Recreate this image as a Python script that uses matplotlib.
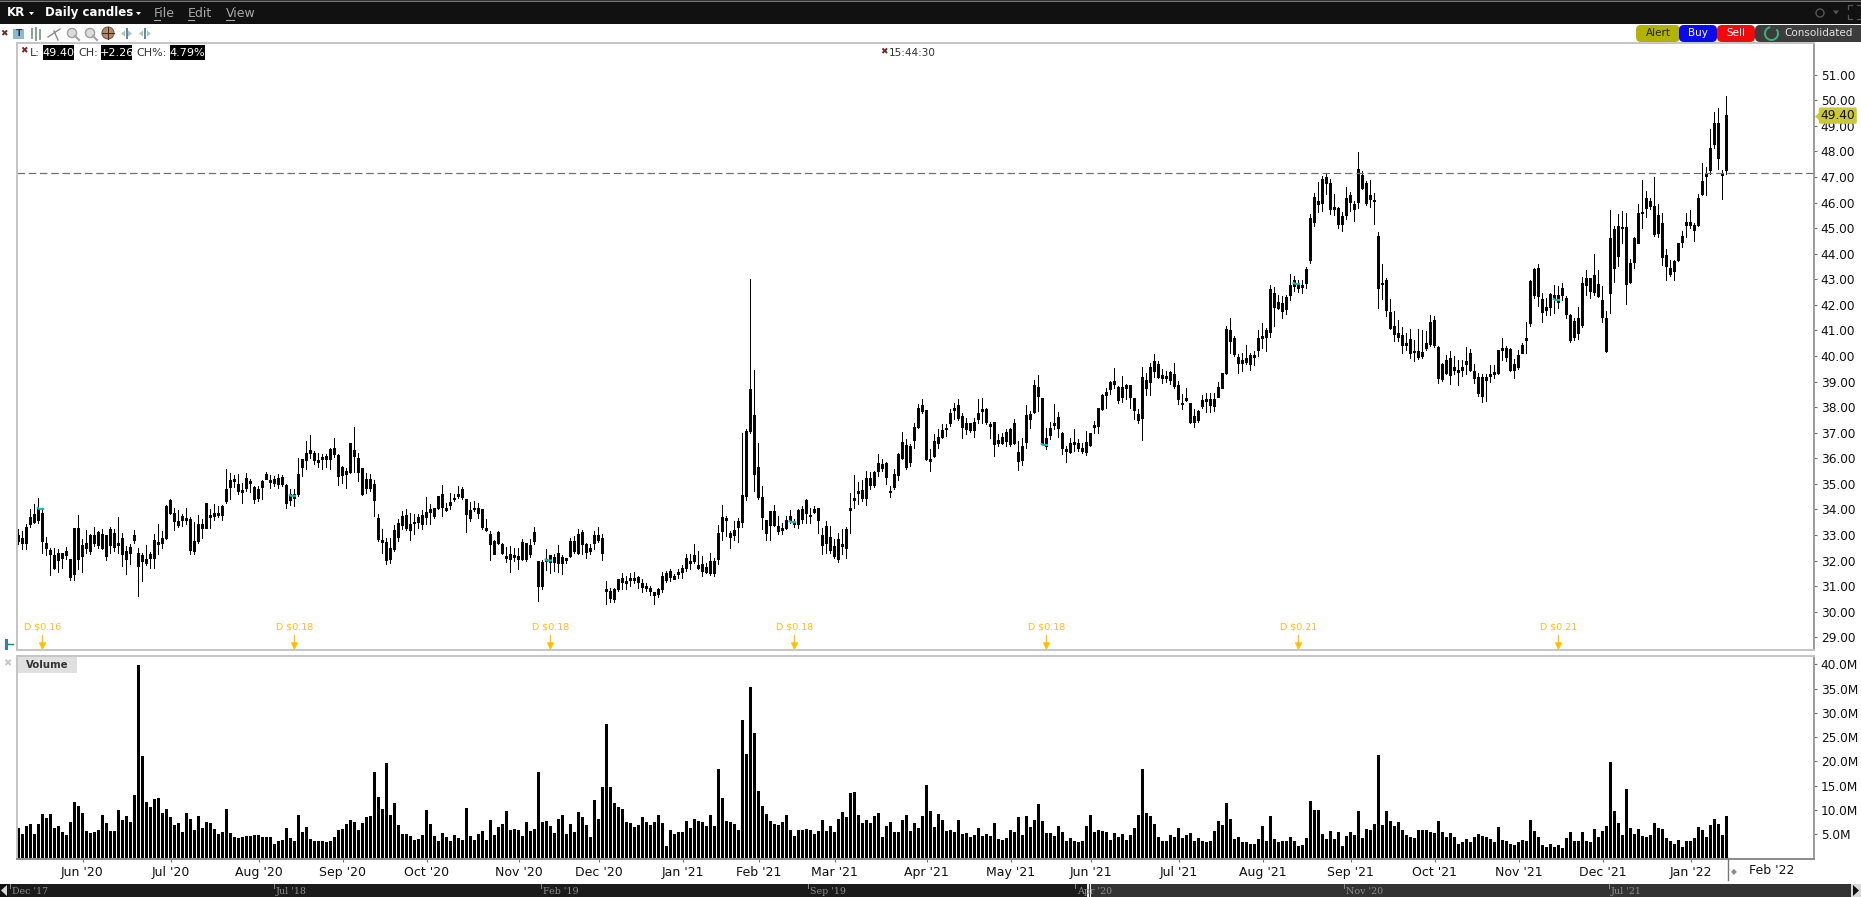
#!/bin/env python
import numpy as np
import matplotlib
matplotlib.use("Agg")
import matplotlib.pyplot as plt
from matplotlib.patches import Rectangle, FancyBboxPatch, Polygon, Circle, Arc

W, H = 1861, 897

# daily candles, Jun '20 to Jan '22 (all drawn black in the reference)
high = [33.23,33.13,33.39,33.98,34.18,34.44,34.05,32.91,32.48,32.48,32.42,32.29,32.52,32.03,33.26,33.75,32.81,33.16,33.00,33.30,33.13,33.20,32.96,33.30,33.20,33.69,33.07,32.55,32.64,33.17,
        32.48,32.29,32.57,32.31,33.00,33.39,33.13,34.14,34.37,34.05,33.96,33.79,34.05,33.69,33.50,33.75,33.59,34.22,33.98,34.18,34.11,34.15,35.55,35.42,35.31,35.35,35.02,35.39,35.16,34.89,
        34.89,35.12,35.44,35.31,35.29,35.35,35.31,34.96,34.76,34.76,35.98,35.96,36.65,36.90,36.26,36.20,36.13,36.13,36.39,36.79,36.13,35.68,35.61,36.59,37.20,36.20,35.61,35.42,35.35,35.13,
        33.79,33.20,32.87,32.87,33.36,33.59,33.92,34.01,33.85,33.79,33.79,33.94,34.48,34.18,34.05,34.50,34.92,34.24,34.63,34.57,34.89,34.87,34.37,34.28,34.31,34.24,34.01,33.59,33.13,32.78,
        33.13,32.68,32.52,32.55,32.48,32.48,32.81,32.65,32.83,33.30,31.96,32.00,32.42,32.18,32.25,32.60,32.18,32.09,32.87,32.94,33.20,33.17,32.68,32.61,33.13,33.30,33.00,31.18,30.92,30.92,
        31.27,31.50,31.37,31.50,31.54,31.37,31.24,31.11,30.98,30.75,30.92,31.54,31.57,31.63,31.44,31.63,31.79,32.22,32.22,32.64,32.35,32.15,31.89,32.28,32.09,33.38,34.16,33.72,33.13,33.52,
        33.65,36.98,37.11,42.98,39.42,36.56,34.89,33.55,33.91,34.14,33.72,33.46,33.72,33.94,33.59,33.98,34.11,34.37,34.05,34.11,34.05,33.26,33.52,33.33,32.81,33.07,33.20,33.30,34.61,35.31,
        35.05,35.13,35.47,35.44,35.48,36.16,35.94,35.83,34.89,35.54,36.20,37.02,36.72,36.52,37.37,38.09,38.28,37.87,36.33,36.91,37.11,37.31,37.31,37.89,38.13,38.31,37.76,37.57,37.37,37.57,
        38.28,38.35,37.96,37.40,37.40,36.91,36.98,37.14,37.17,37.53,36.65,36.78,38.05,37.83,39.03,39.22,38.35,37.17,37.41,38.09,37.79,37.01,36.46,36.78,37.14,36.72,36.59,37.04,36.98,37.44,
        37.93,38.48,38.74,39.00,39.52,38.80,39.20,38.87,38.83,38.35,37.89,39.56,39.33,39.72,40.04,39.78,39.46,39.39,39.39,39.69,39.00,38.48,38.74,38.13,37.89,37.87,38.44,38.54,38.54,38.54,
        38.97,39.33,41.15,41.48,40.76,40.04,40.10,40.39,40.08,40.17,40.98,41.28,41.08,42.74,42.69,42.38,42.32,42.38,43.17,43.10,42.95,42.97,43.47,45.55,46.36,46.79,47.01,47.14,46.91,46.30,
        45.80,45.61,46.60,46.40,46.04,47.97,47.21,46.82,46.88,46.34,44.84,43.56,43.04,42.19,41.73,41.37,41.12,40.89,41.02,40.62,41.02,40.99,40.95,41.60,41.54,40.36,39.71,40.00,40.17,39.97,
        39.84,39.84,40.34,40.26,39.65,39.32,39.28,39.29,39.61,39.61,40.23,40.69,40.36,40.30,39.87,40.23,40.47,41.30,42.95,43.43,43.56,42.45,42.25,42.45,42.74,42.71,42.84,42.32,41.64,41.47,
        41.89,43.08,43.36,43.04,43.95,43.36,42.71,41.73,45.67,45.06,45.55,45.65,45.58,43.78,44.63,45.93,46.88,46.45,46.17,46.99,45.91,45.58,44.17,43.75,43.75,44.41,44.86,45.58,45.67,45.19,
        46.30,47.51,47.39,48.87,49.53,49.66,47.24,50.13]
body_top = [32.96,32.85,33.30,33.69,33.79,34.05,33.84,32.65,32.38,32.20,32.26,32.26,32.34,32.03,33.24,33.26,32.60,32.65,32.96,32.96,33.09,33.00,32.96,33.20,33.04,32.65,32.85,32.34,32.49,32.96,
            32.29,32.18,32.03,32.22,32.77,32.72,32.87,34.11,34.33,33.83,33.53,33.71,33.63,33.59,32.73,33.39,33.39,34.22,33.75,33.85,33.83,34.11,34.76,35.12,35.18,34.96,34.74,35.19,35.09,34.85,
            34.76,35.09,35.36,35.13,35.16,35.19,35.23,34.92,34.59,34.57,35.35,35.96,36.20,36.29,36.17,35.90,36.03,36.07,36.33,36.37,36.11,35.64,35.48,36.56,36.29,35.98,35.59,35.16,35.16,34.96,
            33.66,32.77,32.70,32.47,33.17,33.43,33.71,33.77,33.39,33.49,33.68,33.75,33.88,34.01,34.02,34.50,34.57,34.02,34.27,34.44,34.59,34.79,34.37,33.94,34.05,34.02,33.98,33.26,33.00,32.74,
            33.11,32.61,32.16,32.22,32.18,32.16,32.69,32.65,32.60,33.11,31.95,31.92,32.05,32.18,32.13,32.26,32.12,32.06,32.73,32.73,33.00,33.11,32.64,32.47,32.96,32.96,32.85,30.85,30.77,30.88,
            31.24,31.28,31.18,31.28,31.28,31.33,31.11,30.97,30.92,30.73,30.85,31.36,31.49,31.57,31.39,31.52,31.70,32.09,31.96,32.18,31.80,31.84,31.71,31.98,31.95,33.07,33.67,33.64,33.07,33.16,
            33.51,34.53,37.03,38.70,37.66,35.62,34.48,33.55,33.91,33.90,33.33,33.25,33.55,33.73,33.46,33.94,33.98,34.35,33.77,33.98,34.02,32.99,33.33,32.91,32.55,32.83,32.64,33.20,34.05,34.41,
            34.68,34.74,35.19,35.22,35.44,35.81,35.77,35.78,34.71,35.35,36.16,36.60,36.50,36.44,37.20,37.93,38.05,37.85,35.94,36.67,36.82,37.10,37.17,37.74,37.93,38.05,37.62,37.36,37.34,37.38,
            37.74,37.89,37.89,37.32,37.38,36.71,36.82,37.01,37.11,37.34,36.24,36.44,37.66,37.70,38.83,38.75,38.32,36.76,37.15,37.34,37.61,36.95,36.33,36.56,36.61,36.56,36.37,36.60,36.95,37.27,
            37.93,38.44,38.58,38.95,38.99,38.75,38.75,38.83,38.83,38.35,37.70,39.14,39.03,39.55,39.80,39.68,39.22,39.18,39.34,39.29,38.86,38.15,38.32,38.13,37.62,37.84,38.24,38.28,38.28,38.28,
            38.78,39.33,41.05,40.98,40.67,39.95,39.84,39.92,40.00,40.00,40.69,40.77,40.98,42.58,42.45,42.10,42.06,42.28,42.74,42.95,42.82,42.76,43.40,45.38,46.21,46.06,46.91,46.98,46.73,45.79,
            45.75,45.45,46.17,46.26,45.91,47.28,47.04,46.73,46.26,46.09,44.69,42.84,42.96,41.71,41.15,40.89,40.79,40.47,40.65,40.19,40.18,40.14,40.47,41.30,41.37,40.34,39.65,39.84,39.92,39.56,
            39.45,39.53,39.79,40.10,39.40,39.14,39.14,39.16,39.28,39.35,40.21,40.30,40.31,40.26,39.65,40.00,40.42,40.70,42.93,43.40,43.44,42.19,41.90,42.42,42.38,42.38,42.62,42.23,41.60,41.36,
            41.47,42.82,43.01,43.01,43.13,42.78,42.15,41.47,44.60,44.95,45.07,45.03,45.03,43.62,44.58,45.58,45.63,46.17,46.06,45.84,45.48,45.19,43.91,43.44,43.71,44.38,44.68,45.21,45.21,45.12,
            46.14,46.81,47.08,48.10,49.08,49.08,47.12,49.39]
body_bot = [32.74,32.65,32.65,33.39,33.50,33.55,32.74,32.47,32.22,31.70,32.00,32.06,32.18,31.33,31.44,32.03,32.16,32.46,32.34,32.65,32.57,32.47,32.16,32.57,32.52,32.57,32.22,32.03,32.26,32.78,
            31.76,31.96,31.87,32.08,32.06,32.64,32.66,32.85,33.83,33.53,33.36,33.56,33.58,32.38,32.36,32.74,33.26,33.26,33.67,33.72,33.75,33.75,34.31,34.85,35.08,34.70,34.66,34.83,35.02,34.37,
            34.44,34.85,35.18,35.05,35.01,34.96,34.99,34.22,34.33,34.44,34.57,35.65,35.91,36.17,35.91,35.83,35.94,35.96,35.94,36.13,35.29,35.31,35.38,35.44,36.07,35.44,34.57,34.80,34.80,34.35,
            32.81,32.70,32.00,32.03,32.42,32.90,33.36,33.26,33.16,33.43,33.47,33.39,33.68,33.88,33.71,34.05,34.07,33.94,34.16,34.37,34.50,34.48,33.79,33.63,33.98,33.83,33.29,33.19,32.61,32.25,
            32.65,32.29,32.08,32.03,32.12,32.05,32.03,32.03,32.22,32.74,30.98,30.97,31.95,31.92,31.93,31.89,31.87,31.99,32.16,32.36,32.26,32.64,32.31,32.36,32.68,32.78,32.26,30.77,30.53,30.46,
            30.85,31.15,31.09,31.20,31.20,31.14,30.93,30.89,30.80,30.63,30.68,30.85,31.22,31.35,31.27,31.44,31.55,31.70,31.87,31.96,31.70,31.58,31.55,31.48,31.50,32.02,33.12,33.55,32.90,32.96,
            33.30,33.48,34.50,37.03,35.35,34.45,33.68,33.04,33.37,33.35,33.12,33.16,33.26,33.55,33.39,33.39,33.61,33.85,33.71,33.88,33.55,32.58,32.68,32.38,32.15,32.02,32.55,32.47,33.95,34.35,
            34.61,34.41,34.41,34.92,34.92,35.48,35.58,35.24,34.66,34.84,35.31,35.99,35.65,35.83,36.69,37.20,37.81,35.94,35.87,36.07,36.59,36.80,37.11,37.34,37.87,37.55,37.20,37.14,37.07,37.07,
            37.50,37.81,37.40,37.25,36.52,36.56,36.59,36.65,36.55,36.59,35.87,35.90,36.61,37.50,37.79,38.41,36.56,36.46,36.87,37.27,37.15,36.37,36.26,36.22,36.55,36.39,36.26,36.24,36.50,37.19,
            37.24,37.92,38.44,38.67,38.88,38.26,38.36,38.71,38.36,37.87,37.49,37.55,38.71,38.96,39.38,39.16,39.12,39.12,39.04,38.80,38.28,38.10,38.24,37.40,37.40,37.46,38.01,38.22,38.05,38.02,
            38.39,38.74,39.33,40.57,40.04,39.69,39.69,39.76,39.65,39.93,40.23,40.68,40.72,40.91,41.90,41.86,41.73,41.80,42.35,42.71,42.63,42.67,42.82,43.73,45.21,45.92,45.95,46.73,45.71,45.71,
            45.15,45.16,45.51,46.02,45.72,46.00,46.56,45.97,46.10,46.04,42.63,42.78,41.76,41.07,40.82,40.72,40.39,40.42,40.10,40.13,39.95,39.97,40.30,40.43,40.39,39.11,39.06,39.32,39.24,39.45,
            39.36,39.43,39.65,39.45,39.11,38.54,38.43,39.03,39.19,39.26,39.32,40.23,39.93,39.45,39.45,39.53,40.10,40.62,41.28,42.36,42.32,41.69,41.77,41.89,42.22,42.09,42.38,41.64,40.62,40.73,
            40.86,41.19,42.75,42.52,42.49,42.32,41.49,40.17,42.45,43.42,43.88,44.97,42.78,42.88,43.65,44.39,45.57,45.75,45.84,44.76,44.77,43.85,43.49,43.17,43.30,43.75,44.45,45.12,45.11,44.89,
            45.12,46.30,47.00,47.25,48.28,47.72,47.05,47.24]
low = [32.61,32.42,32.44,33.30,33.43,33.46,32.29,32.18,31.40,31.63,31.53,31.70,32.03,31.22,31.22,31.63,31.53,32.29,32.22,32.55,32.48,32.42,32.00,32.29,32.34,32.29,31.76,31.44,31.83,32.65,
       30.59,31.18,31.79,31.70,31.70,32.22,32.48,32.81,33.80,33.17,33.30,33.33,33.39,32.25,32.25,32.68,32.87,33.26,33.24,33.55,33.69,33.55,34.24,34.37,34.85,34.57,34.24,34.70,34.66,34.24,
       34.31,34.37,35.16,34.83,34.89,34.83,34.89,34.05,34.15,34.11,34.50,35.29,35.55,36.00,35.74,35.65,35.57,35.65,35.57,36.04,34.92,35.00,34.83,35.42,35.44,35.09,34.53,34.63,34.70,33.72,
       32.74,32.29,31.83,31.87,32.35,32.74,33.20,33.17,32.78,33.00,33.26,33.23,33.39,33.39,33.66,34.01,33.72,33.92,34.01,34.31,34.44,34.40,33.09,33.53,33.92,33.66,33.23,33.13,32.00,32.22,
       32.61,32.25,31.92,31.53,31.96,31.63,32.00,31.96,32.13,32.61,30.40,30.85,31.61,31.50,31.57,31.53,31.44,31.87,32.13,32.29,32.22,32.22,32.09,32.22,32.42,32.70,32.00,30.27,30.37,30.36,
       30.79,30.85,30.85,30.98,31.11,30.92,30.75,30.79,30.63,30.26,30.55,30.76,31.15,31.18,31.24,31.31,31.28,31.57,31.63,31.89,31.63,31.37,31.50,31.40,31.37,31.85,32.78,32.94,32.45,32.77,
       32.70,33.29,34.35,36.95,34.70,34.40,33.20,32.77,32.77,33.33,33.00,33.00,33.20,33.46,33.29,33.24,33.46,33.46,33.46,33.82,33.04,32.22,32.28,32.28,32.09,31.92,32.22,32.09,33.04,34.05,
       34.18,34.31,34.14,34.76,34.87,35.28,35.48,34.96,34.45,34.79,35.13,35.94,35.57,35.68,36.37,37.17,37.76,35.90,35.48,36.04,36.39,36.78,36.85,37.24,37.53,37.46,36.76,36.92,37.02,36.81,
       37.34,37.37,37.31,36.76,36.07,36.46,36.55,36.46,36.46,36.55,35.52,35.71,36.39,37.17,37.76,37.83,36.52,36.33,36.72,37.11,36.81,36.13,35.83,36.17,36.26,36.26,36.17,36.09,36.46,36.98,
       36.95,37.87,37.96,38.48,38.74,38.13,38.18,38.28,37.96,37.50,37.34,36.68,38.44,38.44,39.17,39.13,38.91,38.96,38.87,38.74,38.11,37.89,38.22,37.34,37.20,37.41,37.96,37.79,37.79,37.83,
       38.36,38.74,39.26,40.11,39.98,39.30,39.39,39.65,39.43,39.61,39.97,40.30,40.17,40.73,41.15,41.80,41.47,41.64,42.16,42.52,42.48,42.45,42.62,43.60,45.06,45.61,45.65,46.30,45.55,45.48,
       44.97,44.86,45.35,45.65,45.25,45.78,46.52,45.87,45.81,45.16,41.84,42.19,41.54,41.02,40.56,40.56,40.08,40.23,39.91,39.80,39.87,39.91,40.23,40.36,40.34,38.93,38.99,39.29,38.90,39.26,
       38.86,39.19,39.26,39.39,38.93,38.41,38.17,38.21,38.97,39.12,39.28,39.84,39.80,39.39,39.10,39.48,40.08,40.10,41.15,42.25,41.93,41.30,41.60,41.58,41.67,41.86,42.16,41.47,40.52,40.60,
       40.66,41.12,42.36,42.25,42.36,42.28,41.30,40.13,41.67,42.87,43.49,44.41,42.03,42.82,43.43,44.38,44.98,45.42,45.71,44.69,44.64,43.52,42.95,43.10,42.97,43.69,44.24,44.63,44.99,44.47,
       45.06,46.26,46.26,47.08,48.13,47.30,46.13,47.09]

# volume in millions
volume = [6.2,5.0,6.6,7.1,5.0,7.1,9.1,8.3,9.1,6.2,6.6,5.4,4.8,7.5,11.6,10.8,9.3,5.6,5.2,5.4,5.8,8.9,7.3,5.6,5.6,9.9,7.9,8.7,7.5,13.0,
          39.7,21.0,11.6,10.5,12.2,12.4,9.3,10.1,8.5,6.8,7.3,5.4,9.3,8.1,5.8,8.7,6.2,7.5,7.3,6.0,5.0,5.4,10.1,5.2,4.4,4.2,4.3,4.6,4.6,4.8,
          4.8,4.4,4.4,4.4,2.9,3.4,3.8,6.2,4.2,3.4,8.9,5.4,6.4,4.0,3.4,3.4,3.6,3.2,3.4,4.4,5.8,6.0,7.1,7.9,7.5,5.8,7.3,8.5,8.7,17.7,
          12.6,10.1,19.6,8.9,11.4,6.8,5.0,5.0,4.6,3.8,4.0,4.8,9.9,7.1,4.6,3.6,5.2,4.4,3.4,4.8,4.2,3.8,10.3,4.6,3.8,5.0,5.6,3.8,7.9,4.8,
          6.4,7.1,9.7,5.8,6.0,5.8,4.6,7.5,5.6,6.0,17.7,7.5,7.7,6.6,5.2,8.1,8.9,5.0,7.1,5.4,9.5,8.5,6.8,4.4,12.0,8.1,14.7,27.6,14.7,11.4,
          10.5,10.1,7.5,7.3,6.4,6.8,8.5,7.5,6.8,7.5,8.9,7.3,2.5,5.8,5.0,5.4,5.4,7.7,6.2,8.1,7.7,7.5,6.6,8.9,6.6,18.4,12.4,7.7,7.5,7.1,
          5.8,28.4,21.4,35.2,25.8,13.8,10.8,9.1,7.7,7.1,6.8,7.5,8.9,5.8,4.6,5.8,5.8,6.0,5.8,5.0,5.6,7.9,5.6,6.6,5.4,8.1,9.5,8.5,13.4,13.6,
          8.9,7.3,7.9,7.3,8.7,9.3,4.4,6.6,7.5,5.4,5.4,7.9,8.9,5.6,7.3,6.2,8.7,15.1,9.7,6.4,9.1,7.9,5.6,5.8,5.4,7.9,5.0,5.2,4.4,4.8,
          6.2,4.6,5.0,4.6,7.3,4.0,3.8,4.2,5.8,5.4,8.5,4.8,8.7,6.4,7.9,11.2,7.7,5.2,5.2,4.6,6.6,5.4,3.6,4.2,3.4,3.2,3.6,6.6,8.9,5.4,
          5.8,5.6,5.4,3.8,5.2,4.4,5.0,3.8,4.8,6.2,8.9,18.4,9.3,8.7,7.1,4.4,3.6,3.4,4.8,4.4,6.2,4.2,4.8,5.2,3.6,4.2,3.6,3.2,3.4,5.6,
          7.7,6.8,11.4,8.1,4.0,4.4,3.2,3.2,2.9,2.9,4.0,6.6,3.4,8.7,4.0,3.2,3.4,3.4,4.4,3.6,2.5,2.7,4.2,11.8,9.9,9.9,5.0,4.0,5.6,4.0,
          5.4,2.5,4.6,5.4,4.8,9.7,4.2,6.0,5.8,7.1,21.2,6.8,9.7,7.7,6.6,7.5,5.8,4.8,4.4,4.2,5.8,5.8,5.8,5.4,5.2,7.7,5.4,4.4,5.2,4.4,
          2.9,3.2,4.0,3.2,4.4,5.0,4.6,4.4,4.0,3.2,6.4,3.8,3.4,2.9,2.7,3.2,3.8,3.4,7.9,5.6,4.4,2.7,2.3,2.9,2.3,2.7,2.1,4.2,5.4,3.4,
          3.4,5.4,3.4,3.2,6.0,4.4,5.6,6.6,19.8,9.7,7.3,4.8,14.2,6.2,5.0,6.0,4.6,4.4,4.8,7.3,6.2,6.0,4.2,3.4,2.9,3.8,2.3,3.6,3.4,4.2,
          6.4,5.8,4.4,6.8,8.1,7.1,4.8,8.7]

month_idx = [16,38,60,81,102,125,145,166,185,204,227,248,268,290,311,333,354,375,396,418]
month_labels = ["Jun '20","Jul '20","Aug '20","Sep '20","Oct '20","Nov '20","Dec '20","Jan '21","Feb '21","Mar '21",
                "Apr '21","May '21","Jun '21","Jul '21","Aug '21","Sep '21","Oct '21","Nov '21","Dec '21","Jan '22"]

div_idx = [6,69,133,194,257,320,385]
div_amount = [0.16,0.18,0.18,0.18,0.18,0.21,0.21]
div_price = [34.02,34.53,32.00,33.50,36.52,42.82,42.19]

price_ticks = list(range(29,52))
vol_ticks = [5,10,15,20,25,30,35,40]
last_price = 49.40
prev_close = 47.14

scroll_labels = ["Dec '17","Jul '18","Feb '19","Sep '19","Apr '20","Nov '20","Jul '21"]
scroll_pos = [12,276,543,810,1077,1346,1611]

fig = plt.figure(figsize=(W/100, H/100), dpi=100, facecolor="white")

def box(l, t, r, b):
    return fig.add_axes([l/W, 1-b/H, (r-l)/W, (b-t)/H])

ax = box(16.5, 43.5, 1814, 650)
vax = box(16.5, 655.5, 1814, 858.5)

x = np.arange(len(high))
high, low = np.array(high), np.array(low)
body_top, body_bot = np.array(body_top), np.array(body_bot)

# candles, kept on whole pixels (4px apart, 3px body, 1px wick)
ax.vlines(x, low, high, colors="black", linewidth=0.72, antialiased=False, snap=False)
ax.bar(x, body_top-body_bot, bottom=body_bot, width=0.74, color="#0a0a0a", linewidth=0, antialiased=False, snap=False)
ax.axhline(prev_close, color="#707070", linewidth=0.9, linestyle=(0, (6, 3)))

xlim = (-0.5, 448.875)
ax.set_xlim(xlim)
ax.set_ylim(28.50, 52.22)
ax.set_xticks([])
ax.yaxis.tick_right()
ax.set_yticks(price_ticks)
ax.set_yticklabels(["%.2f" % t for t in price_ticks])

# dividends
for i, a, p in zip(div_idx, div_amount, div_price):
    ax.plot([i-1.4, i-0.9, i+0.4], [p+0.06, p, p], color="#22b5b0", linewidth=1.5, solid_capstyle="butt")
    ax.annotate("D $%.2f" % a, xy=(i, 28.5), xytext=(0, 13), textcoords="offset points",
                ha="center", va="bottom", fontsize=6.8, color="#ffc000")
    ax.annotate("", xy=(i, 28.5), xytext=(0, 10.5), textcoords="offset points",
                arrowprops=dict(arrowstyle="-|>", color="#ffc000", lw=1.0, mutation_scale=10,
                                shrinkA=0, shrinkB=0))

# volume
vax.bar(x, volume, width=0.74, color="black", linewidth=0, antialiased=False, snap=False)
vax.set_xlim(xlim)
vax.set_ylim(0, 41.8)
vax.yaxis.tick_right()
vax.set_yticks(vol_ticks)
vax.set_yticklabels(["%.1fM" % t for t in vol_ticks])
vax.set_xticks(month_idx)
vax.set_xticklabels(month_labels)

for a in (ax, vax):
    for s in ("left", "top", "bottom"):
        a.spines[s].set_color("#c4c4c4")
        a.spines[s].set_linewidth(1.4)
    a.spines["right"].set_color("#8a8a8a")
    a.spines["right"].set_linewidth(1.2)
    a.tick_params(axis="y", length=2.2, width=0.8, color="#707070", pad=2.6, labelsize=8.7, labelcolor="#111111")
    a.tick_params(axis="x", length=2.2, width=0.8, color="#707070", pad=3.5, labelsize=9, labelcolor="#111111")
vax.spines["bottom"].set_color("#8a8a8a")

# last price tag
ax.text(1.0036, last_price, "%.2f" % last_price, transform=ax.get_yaxis_transform(), va="center", ha="left",
        fontsize=8.7, color="#111111", clip_on=False, zorder=6,
        bbox=dict(boxstyle="round,pad=0.14", fc="#c9c934", ec="none"))

# window chrome, in pixels
ov = fig.add_axes([0, 0, 1, 1], facecolor="none", zorder=5)
ov.set_xlim(0, W)
ov.set_ylim(H, 0)
ov.axis("off")

def rect(l, t, r, b, c, **kw):
    ov.add_patch(Rectangle((l, t), r-l, b-t, fc=c, ec="none", **kw))

ov.add_patch(Polygon([[1815, 116.5], [1820, 112], [1820, 121]], fc="#c9c934", ec="none"))

rect(0, 0, W, 24, "#111111")
rect(0, 0, W, 1, "#333333")
rect(0, 1, W, 2, "#777777")
ov.text(7, 13, "KR", color="white", fontsize=8.5, fontweight="bold", va="center")
ov.text(45, 12.5, "Daily candles", color="white", fontsize=8.5, fontweight="bold", va="center")
for p in (29, 136):
    ov.add_patch(Polygon([[p, 12], [p+5, 12], [p+2.5, 15]], fc="white", ec="none"))
for t, px, w in (("File", 154, 6), ("Edit", 188, 6), ("View", 226, 8)):
    ov.text(px, 13.5, t, color="#a8a8a8", fontsize=9, va="center")
    ov.plot([px, px+w], [20, 20], color="#a8a8a8", lw=0.8)

# top right window icons
ov.add_patch(Circle((1820, 13), 4, fc="none", ec="#555555", lw=1))
ov.add_patch(Polygon([[1833, 10.5], [1839, 10.5], [1836, 14.5]], fc="#555555", ec="none"))
for cx, cy, dx, dy in ((1848, 5, 1, 1), (1861, 5, -1, 1), (1848, 19, 1, -1), (1861, 19, -1, -1)):
    ov.plot([cx, cx, cx+4*dx], [cy+4*dy, cy, cy], color="#555555", lw=0.9)

# toolbar
ov.text(4, 34, "\u2716", color="#6b2b2b", fontsize=6.5, ha="center", va="center")
rect(13, 29, 24, 39, "#8fb6cc")
ov.text(18.5, 34, "T", color="#1c3f55", fontsize=6.5, fontweight="bold", ha="center", va="center")
for px, top, bot in ((32, 29, 38), (36, 28, 40), (40, 30, 39)):
    ov.plot([px, px], [top, bot], color="#7d9a86", lw=1.3)
ov.plot([48, 60], [37, 29], color="#8a8a8a", lw=1)
ov.plot([54, 58], [31, 40], color="#8a8a8a", lw=1)
for px in (72, 90):
    ov.add_patch(Circle((px, 33), 4.6, fc="#dcdcdc", ec="#a0a0a0", lw=1))
    ov.plot([px+3, px+7], [36, 40], color="#a0a0a0", lw=1.5)
ov.add_patch(Circle((108, 33), 6, fc="#b58a68", ec="#7a5a44", lw=0.8))
ov.plot([102, 114], [33, 33], color="#3b2a20", lw=0.7)
ov.plot([108, 108], [27, 39], color="#3b2a20", lw=0.7)
rect(125.5, 28, 127.5, 39, "#5f8cab")
rect(144, 28, 146, 39, "#5f8cab")
for px, s in ((125, -1), (128, 1), (143, -1), (147, 1)):
    ov.add_patch(Polygon([[px, 30.5], [px, 36.5], [px+4*s, 33.5]], fc="#a9c6ae", ec="none"))

# order buttons
buttons = [("Alert", 1636, 1680, "#b2b200", "#222200"), ("Buy", 1679, 1717, "#0a0af0", "white"), ("Sell", 1717, 1755, "#f00a0a", "white")]
for t, l, r, c, tc in buttons:
    ov.add_patch(FancyBboxPatch((l+4, 29), r-l-8, 9, boxstyle="round,pad=4,rounding_size=5", fc=c, ec="none"))
    ov.text((l+r)/2, 33.5, t, color=tc, fontsize=7.5, ha="center", va="center")
ov.add_patch(FancyBboxPatch((1759, 29), 110, 9, boxstyle="round,pad=4,rounding_size=5", fc="#3c3c3c", ec="none"))
ov.add_patch(Arc((1771.5, 33.5), 13, 13, theta1=320, theta2=260, color="#35b57d", lw=1.4))
ov.text(1784, 33.5, "Consolidated", color="#e2e2e2", fontsize=7.5, va="center")

# legend line in the plot
ov.text(24, 51, "\u2716", color="#6b2b2b", fontsize=6.5, ha="center", va="center")
ov.text(30, 52.5, "L:", color="#333333", fontsize=8, va="center")
ov.text(78, 52.5, "CH:", color="#333333", fontsize=8, va="center")
ov.text(136, 52.5, "CH%:", color="#333333", fontsize=8, va="center")
for t, l, r in (("49.40", 43, 74), ("+2.26", 101, 132), ("4.79%", 170, 205)):
    rect(l, 45, r, 60, "black")
    ov.text((l+r)/2, 52.5, t, color="white", fontsize=8, ha="center", va="center")
ov.text(884, 52, "\u2716", color="#6b2b2b", fontsize=6.5, ha="center", va="center")
ov.text(889, 52.5, "15:44:30", color="#333333", fontsize=7.5, va="center")

# left side icons and volume tag
rect(5, 639, 8, 650, "#2f7fc0")
ov.plot([8, 13], [644, 644], color="#1d8a4a", lw=1)
ov.text(7, 663, "\u2716", color="#c8c8c8", fontsize=7, ha="center", va="center")
rect(18, 657, 77, 673, "#e0e0e0")
ov.text(47.5, 665.5, "Volume", color="#333333", fontsize=7.3, fontweight="bold", ha="center", va="center")

# future month after the last bar
ov.plot([1728, 1728], [858, 880], color="#777777", lw=1)
ov.text(1734, 872, "\u25c6", color="#8a8a8a", fontsize=5.5, ha="center", va="center")
ov.text(1772, 870, "Feb '22", color="#111111", fontsize=9, ha="center", va="center")

# scroller
rect(0, 884, 1088, H, "#1b1b1b")
rect(1088, 884, 1851, H, "#333333")
rect(1851, 884, W, H, "#d8d8d8")
rect(1087, 884, 1091, H, "#e6e6e6")
rect(1088.5, 884, 1089.5, H, "#444444")
rect(0, 884, 8, H, "#111111")
ov.add_patch(Polygon([[1, 890.5], [7, 885], [7, 896]], fc="#d8d8d8", ec="none"))
ov.add_patch(Polygon([[1859, 890.5], [1853, 885], [1853, 896]], fc="#111111", ec="none"))
for t, px in zip(scroll_labels, scroll_pos):
    ov.text(px, 891, t, color="#8c8c8c", fontsize=6.8, family="DejaVu Serif", va="center", ha="left")
    ov.plot([px-2, px-2], [884, 888], color="#8c8c8c", lw=0.7)

fig.savefig("out.png", dpi=100, facecolor="white")
